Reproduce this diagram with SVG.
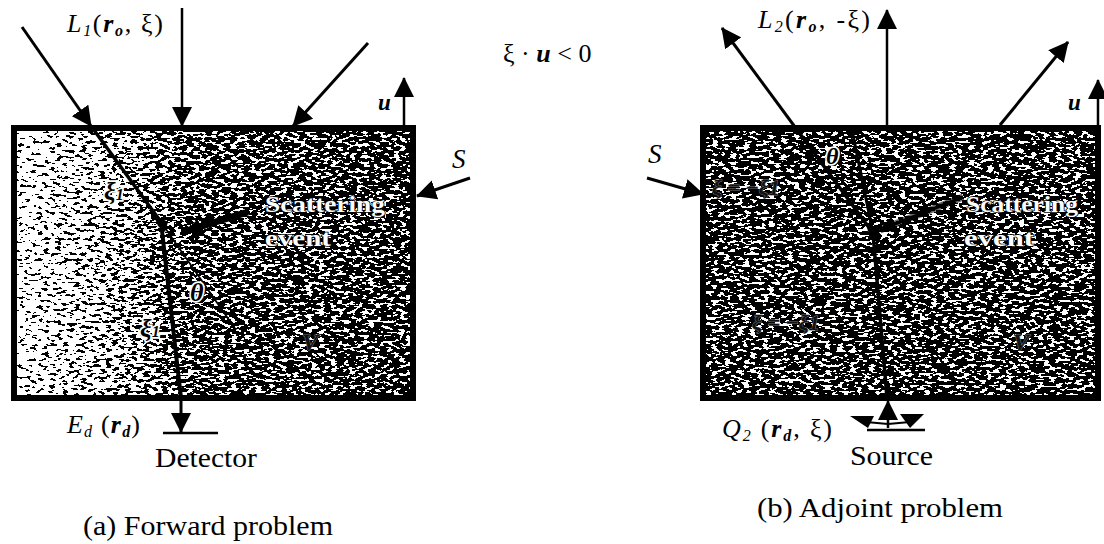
<svg xmlns="http://www.w3.org/2000/svg" width="1104" height="544" viewBox="0 0 1104 544">
<style>
text{font-family:"Liberation Serif","DejaVu Serif",serif;fill:#000}
.it{font-style:italic}
.bi{font-style:italic;font-weight:bold}
.cap{font-size:28px}
.lbl{font-size:26px}
.sub{font-size:16px}
.inbox{font-weight:bold;fill:#fff;stroke:#000;stroke-width:1.5;paint-order:stroke}
.mark{font-weight:bold;font-style:italic;fill:#000;stroke:#fff;stroke-width:3.5;paint-order:stroke}
.faint{font-weight:bold;font-style:italic;fill:#111;stroke:#777;stroke-width:1;paint-order:stroke}
.ln{stroke:#000;fill:none;stroke-linecap:butt}
.border{fill:none;stroke:#000;stroke-width:6}
</style>
<defs>
<linearGradient id="gL" x1="0" y1="0" x2="1" y2="0">
<stop offset="0" stop-color="#bcbcbc"/>
<stop offset="0.22" stop-color="#9a9a9a"/>
<stop offset="0.45" stop-color="#6c6c6c"/>
<stop offset="1" stop-color="#626262"/>
</linearGradient>
<filter id="speck" x="0" y="0" width="1" height="1" color-interpolation-filters="sRGB">
<feTurbulence type="fractalNoise" baseFrequency="0.16 0.34" numOctaves="2" seed="7" result="n"/>
<feColorMatrix in="n" type="matrix" values="1 0 0 0 0  1 0 0 0 0  1 0 0 0 0  0 0 0 0 1" result="nr"/>
<feComposite in="SourceGraphic" in2="nr" operator="arithmetic" k1="0" k2="1" k3="1.7" k4="-0.85" result="sum"/>
<feComponentTransfer in="sum">
<feFuncR type="discrete" tableValues="0 1"/>
<feFuncG type="discrete" tableValues="0 1"/>
<feFuncB type="discrete" tableValues="0 1"/>
<feFuncA type="linear" slope="0" intercept="1"/>
</feComponentTransfer>
</filter>
<marker id="ah" viewBox="0 0 20 20" refX="19" refY="10" markerWidth="20" markerHeight="20" orient="auto" markerUnits="userSpaceOnUse">
<path d="M0,0 L20,10 L0,20 z" fill="#000"/>
</marker>
<marker id="ahs" viewBox="0 0 16 16" refX="15" refY="8" markerWidth="16" markerHeight="16" orient="auto" markerUnits="userSpaceOnUse">
<path d="M0,0 L16,8 L0,16 z" fill="#000"/>
</marker>
</defs>
<rect width="1104" height="544" fill="#fff"/>

<g id="box-forward">
<rect x="14" y="128" width="399" height="270" fill="url(#gL)" filter="url(#speck)"/>
<rect class="border" x="14" y="128" width="399" height="270"/>
</g>
<g id="box-adjoint">
<rect x="703" y="128" width="395" height="270" fill="#646464" filter="url(#speck)"/>
<rect class="border" x="703" y="128" width="395" height="270"/>
</g>

<g id="connectors">
<line class="ln" x1="22" y1="27" x2="91" y2="126" stroke-width="3" marker-end="url(#ah)"/>
<line class="ln" x1="91" y1="126" x2="161" y2="222" stroke-width="3.5"/>
<line class="ln" x1="161" y1="222" x2="236" y2="330" stroke-width="1.8"/>
<line class="ln" x1="182" y1="8" x2="182" y2="126" stroke-width="2.5" marker-end="url(#ah)"/>
<line class="ln" x1="368" y1="43" x2="293" y2="126" stroke-width="3" marker-end="url(#ah)"/>
<line class="ln" x1="161" y1="222" x2="181" y2="398" stroke-width="4"/>
<line class="ln" x1="181" y1="398" x2="181" y2="432" stroke-width="3" marker-end="url(#ah)"/>
<polygon points="153,214 168,222 165,232 158,226" fill="#000"/>
<line class="ln" x1="248" y1="212" x2="186" y2="231" stroke="#fff" stroke-width="7"/>
<line class="ln" x1="248" y1="212" x2="186" y2="231" stroke-width="3" marker-end="url(#ahs)"/>
<line class="ln" x1="404" y1="126" x2="404" y2="78" stroke-width="2.5" marker-end="url(#ah)"/>
<line class="ln" x1="470" y1="178" x2="417" y2="196" stroke-width="3" marker-end="url(#ah)"/>

<line class="ln" x1="873" y1="233" x2="795" y2="127" stroke-width="3.5"/>
<line class="ln" x1="795" y1="127" x2="722" y2="28" stroke-width="3" marker-end="url(#ah)"/>
<line class="ln" x1="887" y1="126" x2="887" y2="10" stroke-width="2.5" marker-end="url(#ah)"/>
<line class="ln" x1="1000" y1="125" x2="1068" y2="42" stroke-width="3" marker-end="url(#ah)"/>
<line class="ln" x1="852" y1="130" x2="873" y2="233" stroke-width="3"/>
<line class="ln" x1="873" y1="233" x2="887" y2="398" stroke-width="3.5"/>
<polygon points="866,224 880,228 878,240 870,238" fill="#000"/>
<line class="ln" x1="963" y1="197" x2="880" y2="230" stroke="#fff" stroke-width="7" stroke-opacity="0.6"/>
<line class="ln" x1="963" y1="197" x2="880" y2="230" stroke-width="3" marker-end="url(#ahs)"/>
<line class="ln" x1="1098" y1="126" x2="1098" y2="80" stroke-width="2.5" marker-end="url(#ah)"/>
<line class="ln" x1="647" y1="178" x2="703" y2="194" stroke-width="3" marker-end="url(#ah)"/>
<line class="ln" x1="888" y1="428" x2="888" y2="401" stroke-width="2.5" marker-end="url(#ah)"/>
<line class="ln" x1="888" y1="424" x2="866" y2="422" stroke-width="2"/>
<line class="ln" x1="888" y1="424" x2="910" y2="422" stroke-width="2"/>
</g>

<g id="detector">
<line class="ln" x1="163" y1="433" x2="218" y2="433" stroke-width="2.5"/>
<text x="67" y="433" class="lbl" textLength="73" lengthAdjust="spacing"><tspan class="it">E</tspan><tspan class="it sub" dy="4">d</tspan><tspan dy="-4"> (</tspan><tspan class="bi">r</tspan><tspan class="bi sub" dy="4">d</tspan><tspan dy="-4">)</tspan></text>
<text x="155" y="467" font-size="27" textLength="102" lengthAdjust="spacingAndGlyphs">Detector</text>
</g>

<g id="source">
<polygon points="850,416 874,416 868,428" fill="#000"/>
<polygon points="900,414 924,414 910,428" fill="#000"/>
<line class="ln" x1="867" y1="430" x2="925" y2="430" stroke-width="2.5"/>
<text x="722" y="437" class="lbl" textLength="110" lengthAdjust="spacing"><tspan class="it">Q</tspan><tspan class="it sub" dy="4">2</tspan><tspan dy="-4"> (</tspan><tspan class="bi">r</tspan><tspan class="bi sub" dy="4">d</tspan><tspan dy="-4">, ξ)</tspan></text>
<text x="850" y="465" font-size="27" textLength="83" lengthAdjust="spacingAndGlyphs">Source</text>
</g>

<g id="labels-forward">
<text x="67" y="32" class="lbl" textLength="96" lengthAdjust="spacing"><tspan class="it">L</tspan><tspan class="it sub" dy="4">1</tspan><tspan dy="-4">(</tspan><tspan class="bi">r</tspan><tspan class="bi sub" dy="4">o</tspan><tspan dy="-4">, ξ)</tspan></text>
<text x="378" y="110" class="bi" font-size="23">u</text>
<text x="452" y="168" class="it" font-size="27">S</text>
<text x="104" y="200" class="mark" font-size="26">ξ<tspan font-size="16">1</tspan></text>
<text x="140" y="337" class="mark" font-size="26">ξ<tspan font-size="16">1</tspan></text>
<text x="190" y="301" class="mark" font-size="26">θ</text>
<text x="302" y="350" class="faint" font-size="24">V</text>
<text x="265" y="212" class="inbox" font-size="23" textLength="120" lengthAdjust="spacingAndGlyphs">Scattering</text>
<text x="265" y="246" class="inbox" font-size="23" textLength="66" lengthAdjust="spacingAndGlyphs">event</text>
<text x="83" y="535" class="cap" textLength="250" lengthAdjust="spacingAndGlyphs">(a) Forward problem</text>
</g>

<g id="labels-adjoint">
<text x="758" y="28" class="lbl" textLength="112" lengthAdjust="spacing"><tspan class="it">L</tspan><tspan class="it sub" dy="4">2</tspan><tspan dy="-4">(</tspan><tspan class="bi">r</tspan><tspan class="bi sub" dy="4">o</tspan><tspan dy="-4">, -ξ)</tspan></text>
<text x="1068" y="110" class="bi" font-size="23">u</text>
<text x="648" y="163" class="it" font-size="27">S</text>
<text x="826" y="164" class="mark" font-size="24">θ</text>
<text x="712" y="195" class="faint" font-size="22">ξ = −ξ1</text>
<text x="752" y="330" class="faint" font-size="22">ξ = −ξ1</text>
<text x="1013" y="350" class="faint" font-size="24">V</text>
<text x="966" y="212" class="inbox" font-size="23" textLength="112" lengthAdjust="spacingAndGlyphs">Scattering</text>
<text x="964" y="246" class="inbox" font-size="23" textLength="70" lengthAdjust="spacingAndGlyphs">event</text>
<text x="757" y="517" class="cap" textLength="246" lengthAdjust="spacingAndGlyphs">(b) Adjoint problem</text>
</g>

<g id="condition">
<text x="503" y="62" font-size="26">ξ · <tspan class="bi">u</tspan> &lt; 0</text>
</g>
</svg>
